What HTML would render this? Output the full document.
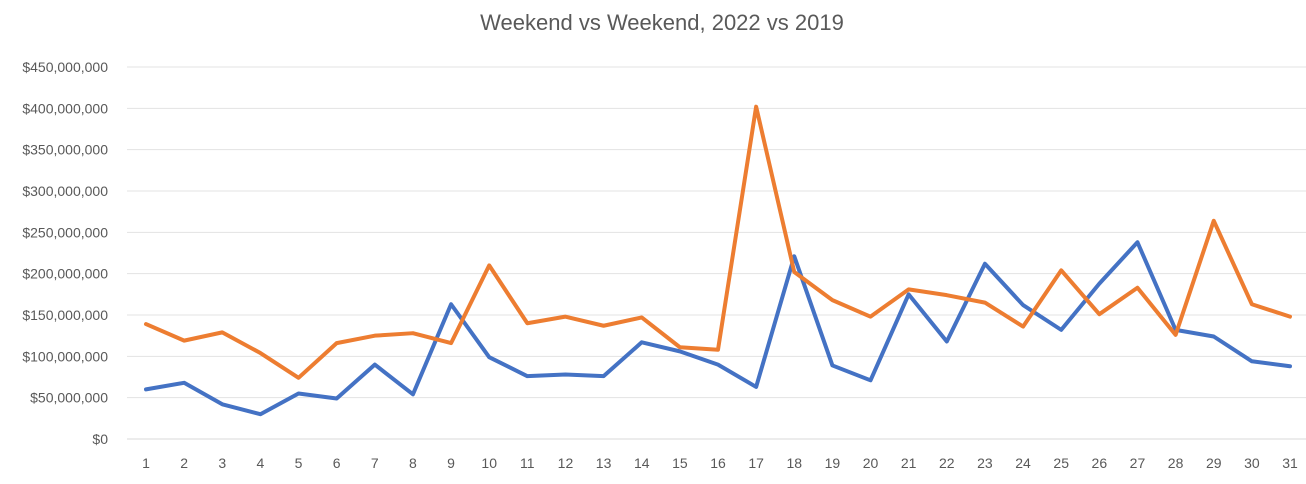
<!DOCTYPE html>
<html><head><meta charset="utf-8"><style>
html,body{margin:0;padding:0;background:#fff;}
svg{display:block;font-family:"Liberation Sans",sans-serif;}
</style></head><body>
<svg id="chart" width="1306" height="484">
<text x="662" y="30" text-anchor="middle" font-size="22" fill="#595959">Weekend vs Weekend, 2022 vs 2019</text>
<g id="grid"></g><g id="yt"></g><g id="xt"></g><g id="lines"></g>
</svg>
<script>
const categories=[1,2,3,4,5,6,7,8,9,10,11,12,13,14,15,16,17,18,19,20,21,22,23,24,25,26,27,28,29,30,31];
const series2022=[60,68,42,30,55,49,90,54,163,99,76,78,76,117,106,90,63,221,89,71,175,118,212,162,132,188,238,132,124,94,88];
const series2019=[139,119,129,104,74,116,125,128,116,210,140,148,137,147,111,108,402,202,168,148,181,174,165,136,204,151,183,126,264,163,148];
const yTicks=[0,50,100,150,200,250,300,350,400,450];
const NS="http://www.w3.org/2000/svg";
const x0=146,x1=1290,yBase=439,yTop=67,yMax=450;
const xScale=i=>x0+(x1-x0)*i/(categories.length-1);
const yScale=v=>yBase-(yBase-yTop)*v/yMax;
function mk(tag,attrs,parent){const e=document.createElementNS(NS,tag);for(const k in attrs)e.setAttribute(k,attrs[k]);parent.appendChild(e);return e;}
const grid=document.getElementById('grid'),yt=document.getElementById('yt'),xt=document.getElementById('xt'),lines=document.getElementById('lines');
yTicks.forEach(t=>{
 const y=yScale(t);
 const l=mk('line',{x1:127,x2:1309,y1:y,y2:y,stroke:t===0?'#d9d9d9':'#e3e3e3','stroke-width':1},grid);
 
 
 const tx=mk('text',{x:108,y:y+5,'text-anchor':'end','font-size':14,fill:'#595959'},yt);
 tx.textContent=t===0?'$0':'$'+(t*1000000).toLocaleString('en-US');
 
 
});
categories.forEach((c,i)=>{
 const tx=mk('text',{x:xScale(i),y:468,'text-anchor':'middle','font-size':14,fill:'#595959'},xt);
 tx.textContent=c;
 
 
});
function draw(data,color,name){
 const p=mk('polyline',{points:data.map((v,i)=>xScale(i)+','+yScale(v)).join(' '),fill:'none',stroke:color,'stroke-width':4,'stroke-linejoin':'round','stroke-linecap':'round'},lines);
 
 
}
draw(series2022,'#4472C4','series-2022-line');
draw(series2019,'#ED7D31','series-2019-line');
</script>
</body></html>
